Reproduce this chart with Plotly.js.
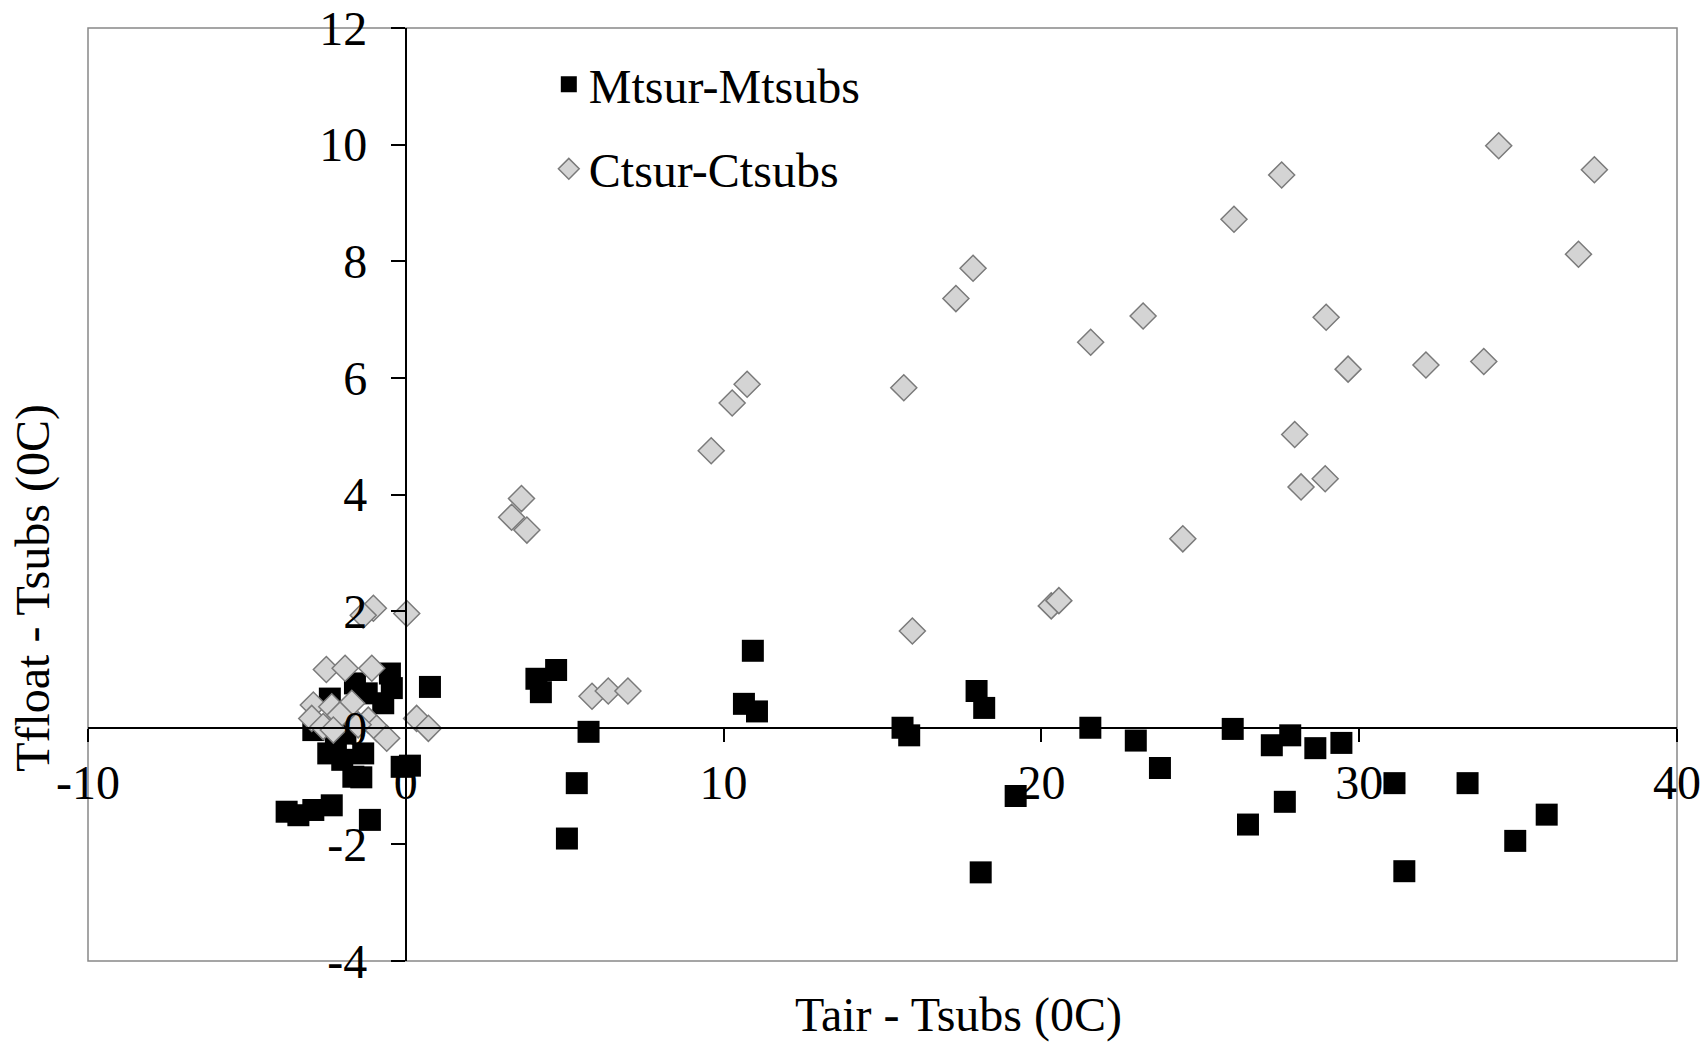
<!DOCTYPE html>
<html>
<head>
<meta charset="utf-8">
<script src="https://cdn.plot.ly/plotly-3.0.1.min.js"></script>
<style>html,body{margin:0;padding:0;background:#fff;}</style>
</head>
<body>
<div id="chart" style="width:1703px;height:1045px;"></div>
<script>
// Series 1: Mtsur-Mtsubs (black squares)
const mX = [-3.75,-3.38,-2.91,-2.33,-1.13,-2.44,-2.0,-1.65,-1.40,-1.34,-0.13,0.13,
            -2.91,-2.39,-1.23,-1.60,-0.50,-0.44,-0.71,0.76,-1.9,-2.2,
            4.11,4.25,4.73,5.75,5.38,5.07,
            10.92,10.64,11.05,
            15.63,15.84,17.96,18.2,19.19,18.09,
            21.54,22.97,23.73,26.02,26.5,27.25,27.66,27.83,28.62,29.44,
            31.11,31.42,33.41,34.91,35.9];
const mY = [-1.44,-1.50,-1.41,-1.33,-1.58,-0.44,-0.55,-0.84,-0.85,-0.44,-0.67,-0.65,
            -0.04,0.50,0.59,0.76,0.93,0.68,0.42,0.70,-0.10,-0.25,
            0.84,0.61,0.99,-0.07,-0.95,-1.90,
            1.32,0.41,0.28,
            0.00,-0.13,0.63,0.34,-1.17,-2.48,
            0.00,-0.22,-0.69,-0.02,-1.66,-0.30,-1.27,-0.13,-0.35,-0.26,
            -0.95,-2.46,-0.95,-1.94,-1.49];

// Series 2: Ctsur-Ctsubs (grey diamonds)
const cX = [-1.02,-1.34,0.03,
            -2.50,-1.91,-1.07,
            -2.91,-2.33,-1.70,-2.96,-2.07,-2.60,-2.28,-1.18,-0.92,-0.60,-1.50,0.34,0.71,
            3.64,3.33,3.81,
            5.86,6.37,6.99,
            9.61,10.27,10.74,
            15.67,15.94,17.31,17.85,
            20.31,20.55,21.55,23.2,24.45,
            26.06,27.56,27.97,28.17,28.93,28.96,29.65,
            32.1,33.92,34.39,36.9,37.4];
const cY = [2.05,1.93,1.96,
            1.00,1.02,1.02,
            0.39,0.36,0.42,0.16,0.22,0.02,-0.04,0.13,-0.01,-0.18,0.05,0.16,-0.01,
            3.93,3.61,3.39,
            0.54,0.63,0.63,
            4.75,5.57,5.89,
            5.83,1.66,7.36,7.88,
            2.09,2.18,6.61,7.06,3.24,
            8.72,9.48,5.03,4.13,4.27,7.04,6.15,
            6.22,6.28,9.98,8.12,9.57];

const xTicks = [-10, 0, 10, 20, 30, 40];
const xTickText = ['-10', '0', '10', '20', '30', '40'];
const yTicks = [-4, -2, 0, 2, 4, 6, 8, 10, 12];
const yTickText = ['-4', '-2', '0', '2', '4', '6', '8', '10', '12'];
const seriesNames = ['Mtsur-Mtsubs', 'Ctsur-Ctsubs'];
const xTitle = 'Tair - Tsubs (0C)';
const yTitle = 'Tfloat - Tsubs (0C)';

const FONT = '"Liberation Serif", "Times New Roman", Times, serif';
const FS = 48;

const traces = [
  {
    type: 'scatter', mode: 'markers', name: seriesNames[0], legendgroup: 'a',
    x: mX, y: mY,
    marker: {symbol: 'square', size: 22, color: '#000000', line: {width: 0}},
    cliponaxis: false, hoverinfo: 'x+y'
  },
  {
    type: 'scatter', mode: 'markers', name: seriesNames[1], legendgroup: 'b',
    x: cX, y: cY,
    marker: {symbol: 'diamond', size: 20, color: '#d4d4d4', line: {width: 1.5, color: '#7a7a7a'}},
    cliponaxis: false, hoverinfo: 'x+y'
  }
];

const layout = {
  width: 1703, height: 1045,
  margin: {l: 88, r: 26, t: 28, b: 84, pad: 0},
  paper_bgcolor: '#ffffff', plot_bgcolor: '#ffffff',
  font: {family: FONT, size: FS, color: '#000000'},
  showlegend: true,
  legend: {
    x: 0.290, y: 0.980, xanchor: 'left', yanchor: 'top',
    bgcolor: 'rgba(0,0,0,0)', borderwidth: 0,
    traceorder: 'grouped', tracegroupgap: 19, itemwidth: 30,
    font: {family: FONT, size: FS, color: '#000000'}
  },
  xaxis: {
    range: [-10, 40], tickmode: 'array', tickvals: xTicks, ticktext: xTickText,
    anchor: 'free', position: 0.25,
    showline: true, linecolor: '#000000', linewidth: 2,
    ticks: 'outside', ticklen: 13, tickwidth: 2, tickcolor: '#000000',
    showgrid: false, zeroline: false,
    tickfont: {family: FONT, size: FS, color: '#000000'}
  },
  yaxis: {
    range: [-4, 12], tickmode: 'array', tickvals: yTicks, ticktext: yTickText,
    anchor: 'free', position: 0.2,
    showline: true, linecolor: '#000000', linewidth: 2,
    ticks: 'outside', ticklen: 14, tickwidth: 2, tickcolor: '#000000',
    ticklabelstandoff: 14,
    showgrid: false, zeroline: false,
    tickfont: {family: FONT, size: FS, color: '#000000'}
  },
  shapes: [{
    type: 'rect', xref: 'paper', yref: 'paper', x0: 0, x1: 1, y0: 0, y1: 1,
    line: {color: '#888888', width: 1.5}, layer: 'below'
  }],
  annotations: [
    {text: xTitle, xref: 'paper', yref: 'paper', x: 0.548, y: -0.0575,
     xanchor: 'center', yanchor: 'middle', showarrow: false, borderpad: 0,
     font: {family: FONT, size: FS, color: '#000000'}},
    {text: yTitle, xref: 'paper', yref: 'paper', x: -0.0346, y: 0.40,
     xanchor: 'center', yanchor: 'middle', showarrow: false, textangle: -90, borderpad: 0,
     font: {family: FONT, size: FS, color: '#000000'}}
  ]
};

Plotly.newPlot('chart', traces, layout, {displayModeBar: false, staticPlot: true});
</script>
</body>
</html>
